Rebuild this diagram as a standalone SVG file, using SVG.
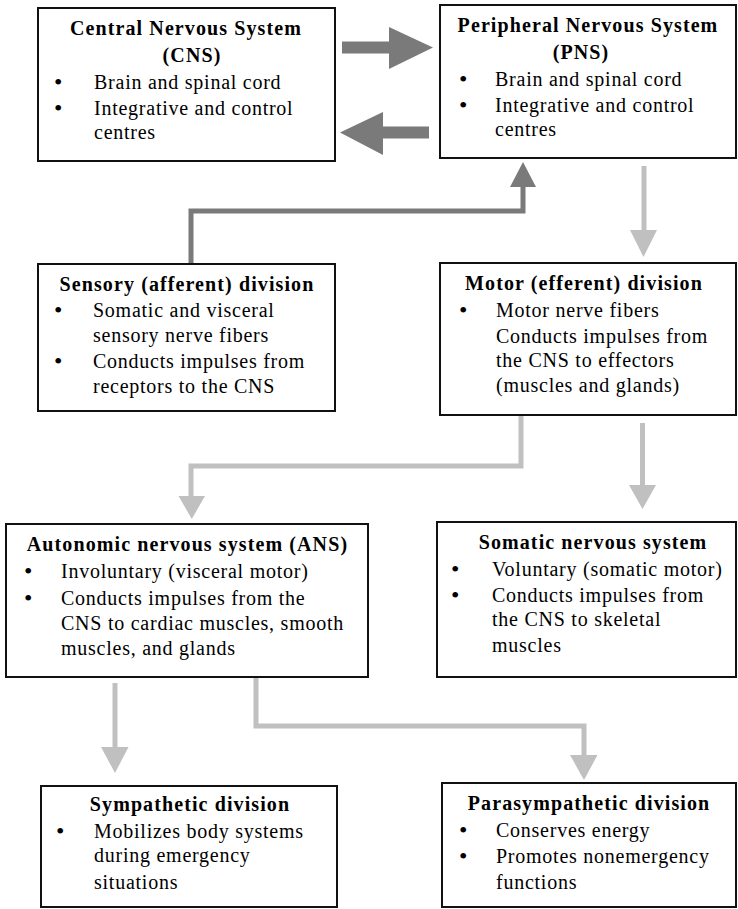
<svg xmlns="http://www.w3.org/2000/svg" width="738" height="909" viewBox="0 0 738 909">
<style>
.box{fill:#fff;stroke:#111;stroke-width:2}
.t{font-family:"Liberation Serif","Times New Roman",serif;font-size:20px;font-weight:bold;text-anchor:middle;letter-spacing:1.1px;fill:#000}
.b{font-family:"Liberation Serif","Times New Roman",serif;font-size:20px;letter-spacing:0.75px;fill:#000}
.u{font-family:"Liberation Serif","Times New Roman",serif;font-size:24px;fill:#000}
.dk{fill:none;stroke:#7a7a7a;stroke-width:5}
.lt{fill:none;stroke:#c0c0c0;stroke-width:5}
.dkf{fill:#7a7a7a}
.ltf{fill:#c0c0c0}
</style>
<rect width="738" height="909" fill="#fff"/>
<g id="connectors">
  <rect class="dkf" x="342" y="41.5" width="47" height="12"/>
  <polygon class="dkf" points="389,27 433,47.5 389,69"/>
  <rect class="dkf" x="383" y="126.5" width="46" height="12"/>
  <polygon class="dkf" points="383,112 340,132.5 383,155"/>
  <path class="dk" d="M191,264 V211 H523 V187"/>
  <polygon class="dkf" points="510,187 536,187 523,162"/>
  <path class="lt" d="M644,166 V231"/>
  <polygon class="ltf" points="630,230 657,230 643.5,257"/>
  <path class="lt" d="M521,416 V466 H191 V497"/>
  <polygon class="ltf" points="178.5,496 205,496 191.8,519"/>
  <path class="lt" d="M642.5,423 V486"/>
  <polygon class="ltf" points="629,485 656,485 642.5,509"/>
  <path class="lt" d="M115,683 V748"/>
  <polygon class="ltf" points="101,747 128.5,747 115,773"/>
  <path class="lt" d="M256,677 V726 H584 V756"/>
  <polygon class="ltf" points="570,755 597.5,755 584,780"/>
</g>
<g id="cns">
  <rect class="box" x="38" y="8" width="297" height="153"/>
  <text class="t" x="186" y="35">Central Nervous System</text>
  <text class="t" x="192" y="62">(CNS)</text>
  <text class="u" x="54" y="90">•</text><text class="b" x="94" y="89">Brain and spinal cord</text>
  <text class="u" x="54" y="116">•</text><text class="b" x="94" y="115">Integrative and control</text>
  <text class="b" x="94" y="139">centres</text>
</g>
<g id="pns">
  <rect class="box" x="440" y="5" width="296" height="153"/>
  <text class="t" x="588" y="32">Peripheral Nervous System</text>
  <text class="t" x="581" y="59">(PNS)</text>
  <text class="u" x="459" y="87">•</text><text class="b" x="495" y="86">Brain and spinal cord</text>
  <text class="u" x="459" y="113">•</text><text class="b" x="495" y="112">Integrative and control</text>
  <text class="b" x="495" y="136">centres</text>
</g>
<g id="sensory">
  <rect class="box" x="38" y="264" width="297" height="147"/>
  <text class="t" x="187" y="291">Sensory (afferent) division</text>
  <text class="u" x="54" y="318">•</text><text class="b" x="93" y="317">Somatic and visceral</text>
  <text class="b" x="93" y="342">sensory nerve fibers</text>
  <text class="u" x="54" y="369">•</text><text class="b" x="93" y="368">Conducts impulses from</text>
  <text class="b" x="93" y="393">receptors to the CNS</text>
</g>
<g id="motor">
  <rect class="box" x="440" y="263" width="296" height="152"/>
  <text class="t" x="584" y="290">Motor (efferent) division</text>
  <text class="u" x="459" y="318">•</text><text class="b" x="496" y="317">Motor nerve fibers</text>
  <text class="b" x="496" y="343">Conducts impulses from</text>
  <text class="b" x="496" y="367">the CNS to effectors</text>
  <text class="b" x="496" y="392">(muscles and glands)</text>
</g>
<g id="ans">
  <rect class="box" x="6" y="524" width="362" height="153"/>
  <text class="t" x="187.5" y="551">Autonomic nervous system (ANS)</text>
  <text class="u" x="24" y="579">•</text><text class="b" x="61" y="578">Involuntary (visceral motor)</text>
  <text class="u" x="24" y="606">•</text><text class="b" x="61" y="605">Conducts impulses from the</text>
  <text class="b" x="61" y="630">CNS to cardiac muscles, smooth</text>
  <text class="b" x="61" y="655">muscles, and glands</text>
</g>
<g id="somatic">
  <rect class="box" x="437" y="522" width="299" height="155"/>
  <text class="t" x="593" y="549">Somatic nervous system</text>
  <text class="u" x="451" y="577">•</text><text class="b" x="492" y="576">Voluntary (somatic motor)</text>
  <text class="u" x="451" y="603">•</text><text class="b" x="492" y="602">Conducts impulses from</text>
  <text class="b" x="492" y="626">the CNS to skeletal</text>
  <text class="b" x="492" y="652">muscles</text>
</g>
<g id="sympathetic">
  <rect class="box" x="41" y="786" width="296" height="121"/>
  <text class="t" x="190" y="811">Sympathetic division</text>
  <text class="u" x="56" y="839">•</text><text class="b" x="94" y="838">Mobilizes body systems</text>
  <text class="b" x="94" y="862">during emergency</text>
  <text class="b" x="94" y="889">situations</text>
</g>
<g id="parasympathetic">
  <rect class="box" x="442" y="783" width="294" height="124"/>
  <text class="t" x="589" y="810">Parasympathetic division</text>
  <text class="u" x="459" y="838">•</text><text class="b" x="496" y="837">Conserves energy</text>
  <text class="u" x="459" y="864">•</text><text class="b" x="496" y="863">Promotes nonemergency</text>
  <text class="b" x="496" y="889">functions</text>
</g>
</svg>
